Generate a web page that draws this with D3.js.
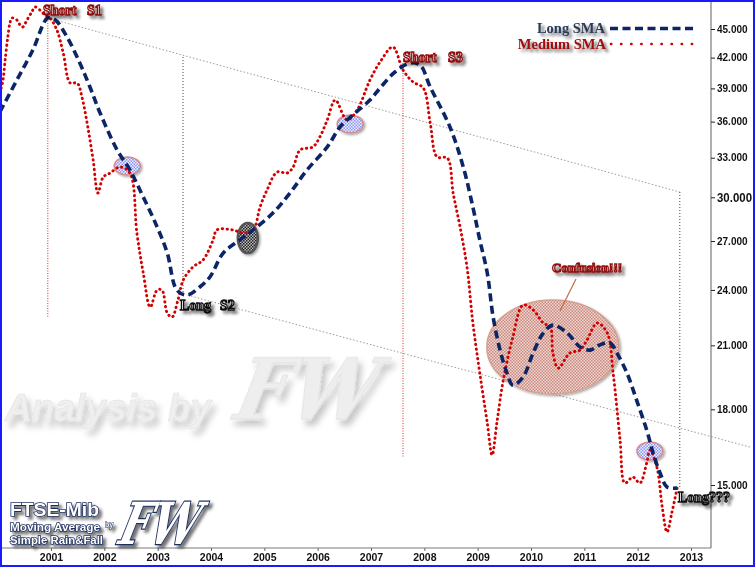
<!DOCTYPE html>
<html><head><meta charset="utf-8">
<script src="https://cdn.jsdelivr.net/npm/d3@7"></script>
<style>
html,body{margin:0;padding:0;background:#fff;}
svg{display:block;}
</style></head>
<body>
<script>
// ---------- DATA ----------
const yearTicks = [2001,2002,2003,2004,2005,2006,2007,2008,2009,2010,2011,2012,2013];
const valueTicks = [15000,18000,21000,24000,27000,30000,33000,36000,39000,42000,45000];

const longSMA = [
[2000.04,36840],[2000.36,39790],[2000.66,42780],[2000.94,46210],[2001.08,45990],[2001.30,44140],
[2001.54,41460],[2001.73,39130],[2001.92,36760],[2002.24,33620],[2002.48,32040],[2002.73,30020],
[2002.99,27930],[2003.18,26230],[2003.36,23990],[2003.55,23710],[2003.79,24170],[2003.98,24760],
[2004.23,26230],[2004.54,27070],[2004.79,27730],[2005.16,28880],[2005.48,30310],[2005.80,32040],
[2006.18,33870],[2006.42,35540],[2006.66,36580],[2006.98,37920],[2007.17,39040],[2007.45,40570],
[2007.73,41460],[2007.92,41260],[2008.11,39130],[2008.48,35540],[2008.73,32270],[2008.91,29310],
[2009.04,27070],[2009.18,25000],[2009.29,22480],[2009.42,20760],[2009.55,19640],[2009.66,19080],
[2009.85,19450],[2010.04,20620],[2010.23,21630],[2010.41,22050],[2010.68,21630],[2010.92,20920],
[2011.11,20760],[2011.29,21020],[2011.48,21120],[2011.61,20620],[2011.80,19640],[2011.98,18400],
[2012.17,17120],[2012.29,16200],[2012.42,15440],[2012.55,14930],[2012.74,14890]
];

const mediumSMA = [
[2000.04,38570],[2000.10,39790],[2000.14,41760],[2000.19,44140],[2000.23,45660],[2000.27,46210],
[2000.36,45990],[2000.42,45440],[2000.47,45220],[2000.55,45990],[2000.64,46880],[2000.70,47450],
[2000.79,47110],[2000.89,46540],[2000.98,46210],[2001.11,44890],[2001.23,42470],[2001.36,39510],
[2001.49,39510],[2001.58,38200],[2001.69,35540],[2001.79,32820],[2001.88,30310],[2001.98,31500],
[2002.11,31810],[2002.29,32270],[2002.48,31810],[2002.61,27530],[2002.73,25000],[2002.86,23030],
[2002.99,23990],[2003.08,23990],[2003.18,22700],[2003.27,22480],[2003.38,23420],[2003.48,24580],
[2003.66,25360],[2003.85,25790],[2004.04,27070],[2004.11,27730],[2004.41,27730],[2004.60,27530],
[2004.79,27730],[2004.92,29310],[2005.05,30530],[2005.24,31880],[2005.43,31810],[2005.54,32270],
[2005.67,33620],[2005.91,33870],[2006.04,34690],[2006.18,36140],[2006.33,37920],[2006.55,36140],
[2006.74,37020],[2006.98,39790],[2007.17,41560],[2007.41,43090],[2007.60,40770],[2007.79,39600],
[2007.98,39040],[2008.11,35880],[2008.24,33060],[2008.43,32980],[2008.54,30310],[2008.67,27930],
[2008.80,25360],[2008.91,22160],[2009.04,19640],[2009.18,17420],[2009.27,16120],[2009.36,17420],
[2009.48,19310],[2009.66,21420],[2009.85,23140],[2010.04,22870],[2010.23,22160],[2010.36,21950],
[2010.41,20620],[2010.51,19880],[2010.73,20620],[2010.92,20760],[2011.05,21270],[2011.24,22160],
[2011.43,21630],[2011.54,19640],[2011.67,16720],[2011.76,15070],[2011.91,15290],[2012.04,15070],
[2012.17,15820],[2012.23,16320],[2012.36,15660],[2012.46,14230],[2012.55,13390],[2012.64,14020],
[2012.74,14890]
];

// annotations (data coordinates)
const crossMarks = [[2002.43,32350],[2006.61,35790],[2012.23,16280]];
const darkMark = [2004.69,27190];
const confusionMark = [2010.41,20916];
const trendUpper = [[2000.94,46210],[2012.79,30384]];
const trendLower = [[2003.56,23700],[2014.11,16434]];
const redVerticals = [[2000.94,46210,22430],[2007.60,41460,16007]];
const darkVerticals = [[2003.475,42066,23800],[2012.79,30384,14890]];

// ---------- SETUP ----------
const W = 755, H = 567;
const axisX = 711, axisY = 548;
const svg = d3.select("body").append("svg").attr("width",W).attr("height",H);
const defs = svg.append("defs");

const x = d3.scaleLinear().domain([2001,2013]).range([51,691]);
const y = d3.scaleLog().domain([15000,45000]).range([485,29]);

const fmtLocale = d3.formatLocale({decimal:",",thousands:".",grouping:[3],currency:["€",""]});
const fmt = fmtLocale.format(",");

// filters
function shadow(id,dx,dy,sd,op){
  const f = defs.append("filter").attr("id",id).attr("x","-30%").attr("y","-30%").attr("width","170%").attr("height","170%");
  f.append("feDropShadow").attr("dx",dx).attr("dy",dy).attr("stdDeviation",sd).attr("flood-color","#000").attr("flood-opacity",op);
}
shadow("sh",3,3,1.6,0.55);
shadow("shSoft",4,6,3,0.22);
shadow("shSmall",1.5,1.5,1,0.35);

// patterns
function checker(id,c1,c2){
  const p = defs.append("pattern").attr("id",id).attr("width",3).attr("height",3).attr("patternUnits","userSpaceOnUse");
  p.append("rect").attr("width",3).attr("height",3).attr("fill",c2);
  p.append("rect").attr("width",1.5).attr("height",1.5).attr("fill",c1);
  p.append("rect").attr("x",1.5).attr("y",1.5).attr("width",1.5).attr("height",1.5).attr("fill",c1);
}
checker("pBlue","#8c96f0","#eef0ff");
checker("pDark","#222","#bbb");
checker("pConf","#c98a80","#efd6d0");

defs.append("clipPath").attr("id","plotClip").append("rect").attr("x",0).attr("y",0).attr("width",axisX).attr("height",axisY);

// ---------- WATERMARK ----------
const wm = svg.append("g").attr("filter","url(#shSoft)");
wm.append("text").attr("x",5).attr("y",421).text("Analysis by")
  .attr("font-family","Liberation Sans, Arial, sans-serif").attr("font-weight","bold").attr("font-style","italic")
  .attr("font-size",38).attr("textLength",206).attr("lengthAdjust","spacingAndGlyphs")
  .attr("fill","#efefef").attr("stroke","#e2e2e2").attr("stroke-width",0.6);
wm.append("text").attr("transform","translate(232,419) skewX(-12)").text("FW")
  .attr("font-family","DejaVu Serif, serif").attr("font-weight","bold").attr("font-style","italic")
  .attr("font-size",84).attr("textLength",140).attr("lengthAdjust","spacingAndGlyphs")
  .attr("fill","#eeeeee").attr("stroke","#e0e0e0").attr("stroke-width",0.8);

// ---------- GUIDE LINES ----------
const guides = svg.append("g");
guides.append("line").attr("x1",x(trendUpper[0][0])).attr("y1",y(trendUpper[0][1]))
  .attr("x2",x(trendUpper[1][0])).attr("y2",y(trendUpper[1][1]))
  .attr("stroke","#999").attr("stroke-width",1).attr("stroke-dasharray","1.5,2");
guides.append("line").attr("x1",x(trendLower[0][0])).attr("y1",y(trendLower[0][1]))
  .attr("x2",x(trendLower[1][0])).attr("y2",y(trendLower[1][1]))
  .attr("stroke","#999").attr("stroke-width",1).attr("stroke-dasharray","1.5,2");
redVerticals.forEach(d=>{
  guides.append("line").attr("x1",x(d[0])).attr("x2",x(d[0])).attr("y1",y(d[1])).attr("y2",y(d[2]))
    .attr("stroke","#d03030").attr("stroke-width",1).attr("stroke-dasharray","1,1.5");
});
darkVerticals.forEach(d=>{
  guides.append("line").attr("x1",x(d[0])).attr("x2",x(d[0])).attr("y1",y(d[1])).attr("y2",y(d[2]))
    .attr("stroke","#444").attr("stroke-width",1).attr("stroke-dasharray","1,2");
});

// ---------- MARKER ELLIPSES ----------
const marks = svg.append("g");
marks.append("ellipse").attr("cx",x(confusionMark[0])).attr("cy",y(confusionMark[1])).attr("rx",66).attr("ry",47)
  .attr("fill","url(#pConf)").attr("stroke","#d4a090").attr("stroke-width",1.5).attr("filter","url(#shSmall)");
crossMarks.forEach(d=>{
  marks.append("ellipse").attr("cx",x(d[0])).attr("cy",y(d[1])).attr("rx",13).attr("ry",9)
    .attr("fill","url(#pBlue)").attr("stroke","#d48a8a").attr("stroke-width",1.5).attr("filter","url(#shSmall)");
});
marks.append("ellipse").attr("cx",x(darkMark[0])).attr("cy",y(darkMark[1])).attr("rx",10).attr("ry",15)
  .attr("fill","url(#pDark)").attr("stroke","#555").attr("stroke-width",2.5).attr("filter","url(#shSmall)");

// ---------- SERIES ----------
const line = d3.line().x(d=>x(d[0])).y(d=>y(d[1])).curve(d3.curveCatmullRom.alpha(0.5));
const plot = svg.append("g").attr("clip-path","url(#plotClip)");
plot.append("path").datum(mediumSMA).attr("d",line).attr("fill","none")
  .attr("stroke","#d40000").attr("stroke-width",2.9).attr("stroke-linecap","round").attr("stroke-dasharray","0.4,4.4");
plot.append("path").datum(longSMA).attr("d",line).attr("fill","none")
  .attr("stroke","#0c2566").attr("stroke-width",3.6).attr("stroke-dasharray","8,4.5");

// ---------- AXES ----------
svg.append("line").attr("x1",axisX).attr("x2",axisX).attr("y1",0).attr("y2",axisY).attr("stroke","#7a7a7a").attr("stroke-width",1.2);
svg.append("line").attr("x1",2).attr("x2",axisX).attr("y1",axisY).attr("y2",axisY).attr("stroke","#7a7a7a").attr("stroke-width",1.2);

const yAxis = svg.append("g").attr("transform",`translate(${axisX},0)`)
  .call(d3.axisRight(y).tickValues(valueTicks).tickFormat(fmt).tickSize(4).tickPadding(2));
yAxis.select(".domain").remove();
yAxis.selectAll(".tick line").attr("stroke","#222");
yAxis.selectAll(".tick text").attr("font-family","Liberation Sans Narrow, Liberation Sans, Arial, sans-serif")
  .attr("font-weight","bold").attr("font-size",10).attr("fill","#111");
yAxis.selectAll(".tick").filter(d=>d===30000).select("text").attr("font-size",12.5)
  .attr("textLength",35).attr("lengthAdjust","spacingAndGlyphs");

const xAxis = svg.append("g").attr("transform",`translate(0,${axisY})`)
  .call(d3.axisBottom(x).tickValues(yearTicks).tickFormat(d3.format("d")).tickSize(3).tickPadding(3));
xAxis.select(".domain").remove();
xAxis.selectAll(".tick line").attr("stroke","#666");
xAxis.selectAll(".tick text").attr("font-family","Liberation Sans Narrow, Liberation Sans, Arial, sans-serif")
  .attr("font-weight","bold").attr("font-size",10.5).attr("fill","#111");

// ---------- LEGEND ----------
const lg = svg.append("g");
lg.append("text").attr("x",605).attr("y",33).attr("text-anchor","end").text("Long SMA")
  .attr("font-family","Liberation Serif, serif").attr("font-weight","bold").attr("font-size",14.5)
  .attr("fill","#2b3a58").attr("filter","url(#sh)");
lg.append("text").attr("x",606).attr("y",49).attr("text-anchor","end").text("Medium SMA")
  .attr("font-family","Liberation Serif, serif").attr("font-weight","bold").attr("font-size",14.5)
  .attr("fill","#a00c0c").attr("filter","url(#sh)");
lg.append("line").attr("x1",610).attr("x2",694).attr("y1",28.5).attr("y2",28.5)
  .attr("stroke","#0c2566").attr("stroke-width",3.6).attr("stroke-dasharray","8,4.5");
lg.append("line").attr("x1",611).attr("x2",694).attr("y1",44).attr("y2",44)
  .attr("stroke","#d40000").attr("stroke-width",2.6).attr("stroke-linecap","round").attr("stroke-dasharray","0.3,9.8");

// ---------- ANNOTATION LABELS ----------
function label(txt,px,py,col,size){
  svg.append("text").attr("x",px).attr("y",py).text(txt)
    .attr("font-family","Liberation Serif, serif").attr("font-weight","bold").attr("font-size",size||14)
    .attr("fill","#fff").attr("stroke",col).attr("stroke-width",1.3).attr("paint-order","normal")
    .attr("filter","url(#sh)");
}
const dred = "#8e0a0a";
label("Short",43,15,dred); label("S1",87,15,dred);
label("Short",403,62,dred); label("S3",448,62,dred);
label("Long",180,310,"#111"); label("S2",220,310,"#111");
label("Long???",678,502,"#111");
label("Confusion!!!",552,272,dred,13);
svg.append("line").attr("x1",576).attr("y1",279).attr("x2",560).attr("y2",311)
  .attr("stroke","#c07050").attr("stroke-width",1.2);

// ---------- LOGO ----------
const logo = svg.append("g").attr("filter","url(#sh)");
function logoText(txt,px,py,size){
  return logo.append("text").attr("x",px).attr("y",py).text(txt)
    .attr("font-family","Liberation Sans, Arial, sans-serif").attr("font-weight","bold").attr("font-size",size)
    .attr("fill","#fff").attr("stroke","#1b2d5e").attr("stroke-width",1.6).attr("paint-order","stroke");
}
logoText("FTSE-Mib",10,516,19).attr("textLength",89).attr("lengthAdjust","spacingAndGlyphs");
logoText("Moving Average",10,531,11.4).attr("textLength",90).attr("lengthAdjust","spacingAndGlyphs");
logoText("by",105,527,7).attr("stroke-width",1);
logoText("Simple Rain&Fall",10,544,11.2).attr("textLength",93).attr("lengthAdjust","spacingAndGlyphs");
logo.append("text").attr("transform","translate(117,544) skewX(-14)").text("FW")
  .attr("font-family","DejaVu Serif, serif").attr("font-weight","bold").attr("font-style","italic")
  .attr("font-size",58).attr("textLength",78).attr("lengthAdjust","spacingAndGlyphs")
  .attr("fill","#fff").attr("stroke","#1b2d5e").attr("stroke-width",2.5).attr("paint-order","stroke");

// ---------- BORDER ----------
svg.append("rect").attr("x",1).attr("y",1).attr("width",W-2).attr("height",H-2)
  .attr("fill","none").attr("stroke","#1a1aff").attr("stroke-width",2);
</script>
</body></html>
